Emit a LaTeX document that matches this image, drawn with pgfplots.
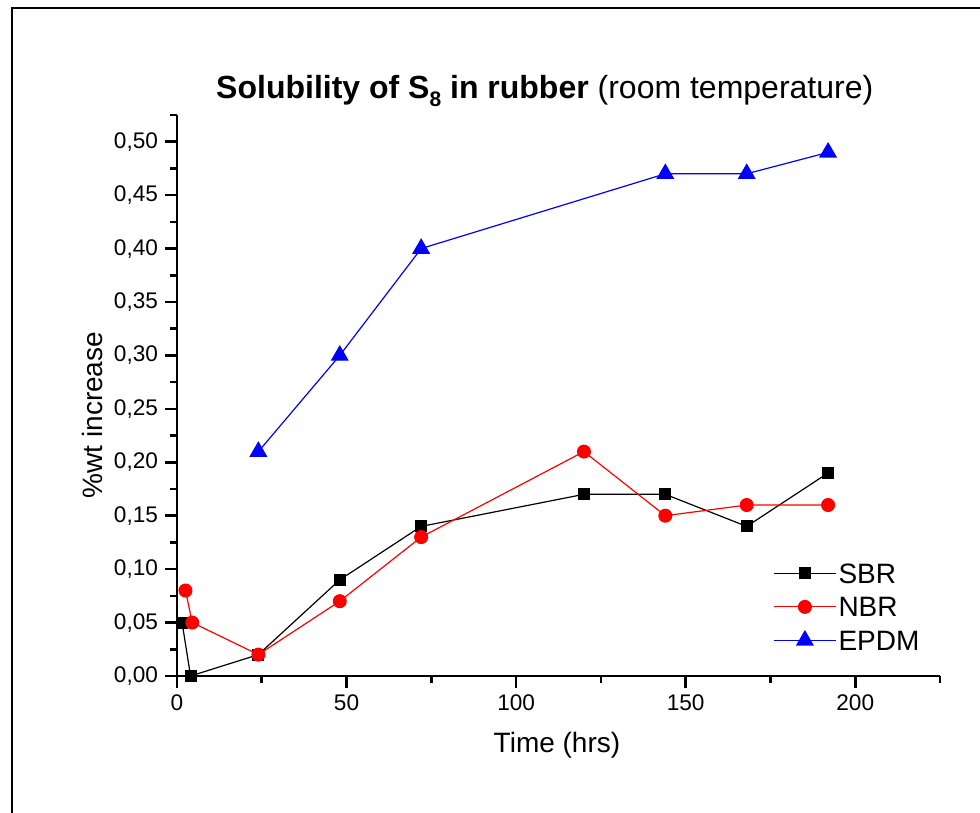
\documentclass[border=0pt]{standalone}
\usepackage{fontspec}
\setmainfont{Liberation Sans}
\usepackage{pgfplots}
\pgfplotsset{compat=1.18}

\begin{document}
\begin{tikzpicture}
\useasboundingbox (-88.5bp,-68.5bp) rectangle (401.5bp,338bp);
% outer frame (only left and top edges fall inside the picture)
\draw[line width=1bp] (-82.5bp,-80bp) -- (-82.5bp,334bp) -- (410bp,334bp);
\begin{axis}[
  at={(0,0)}, anchor=south west,
  scale only axis,
  width=381.5bp, height=280.5bp,
  xmin=0, xmax=225, ymin=0, ymax=0.525,
  axis x line*=bottom, axis y line*=left,
  axis line style={line width=1.3bp},
  tick align=outside,
  major tick length=6bp, minor tick length=3.5bp,
  every tick/.style={line width=1.3bp, black},
  xtick={0,50,100,150,200},
  minor xtick={25,75,125,175,225},
  ytick={0,0.05,...,0.51},
  minor ytick={0.025,0.075,0.125,0.175,0.225,0.275,0.325,0.375,0.425,0.475,0.525},
  /pgf/number format/assume math mode=true,
  ticklabel style={font=\fontsize{11.3bp}{13bp}\selectfont},
  yticklabel style={/pgf/number format/.cd, fixed, fixed zerofill, precision=2, use comma},
  xlabel={Time (hrs)},
  ylabel={\%wt increase},
  every axis x label/.style={at={(axis description cs:0.498,-0.123)}, anchor=center,
    font=\fontsize{14bp}{16bp}\selectfont},
  every axis y label/.style={at={(axis description cs:-0.1114,0.465)}, rotate=90, anchor=center,
    font=\fontsize{14bp}{16bp}\selectfont},
  title={\textbf{Solubility of S\raisebox{-0.45ex}{\fontsize{10.5bp}{10bp}\selectfont 8} in rubber} (room temperature)},
  every axis title/.style={at={(axis description cs:0.482,1.043)}, anchor=center,
    font=\fontsize{16bp}{18bp}\selectfont},
  legend style={draw=none, fill=none, at={(axis description cs:0.781,0.205)}, anchor=north west,
    font=\fontsize{14bp}{16bp}\selectfont, row sep=4.75bp, inner sep=0pt,
    nodes={inner sep=1bp, text height=10bp, text depth=0bp}},
  legend cell align=left,
  legend image code/.code={\draw[mark repeat=2,mark phase=2] plot coordinates {(0bp,0bp)(15.5bp,0bp)(31bp,0bp)};},
]
\addplot[black, line width=0.6bp, mark=square*, mark size=2.7bp, mark options={solid}]
  coordinates {(1.5,0.05) (4,0) (24,0.02) (48,0.09) (72,0.14) (120,0.17) (144,0.17) (168,0.14) (192,0.19)};
\addlegendentry{SBR}
\addplot[red, line width=0.6bp, mark=*, mark size=3.2bp]
  coordinates {(2.5,0.08) (4.5,0.05) (24,0.02) (48,0.07) (72,0.13) (120,0.21) (144,0.15) (168,0.16) (192,0.16)};
\addlegendentry{NBR}
\addplot[blue, line width=0.6bp, mark=triangle*, mark size=4.6bp]
  coordinates {(24,0.21) (48,0.30) (72,0.40) (144,0.47) (168,0.47) (192,0.49)};
\addlegendentry{EPDM}
\end{axis}
\end{tikzpicture}
\end{document}
